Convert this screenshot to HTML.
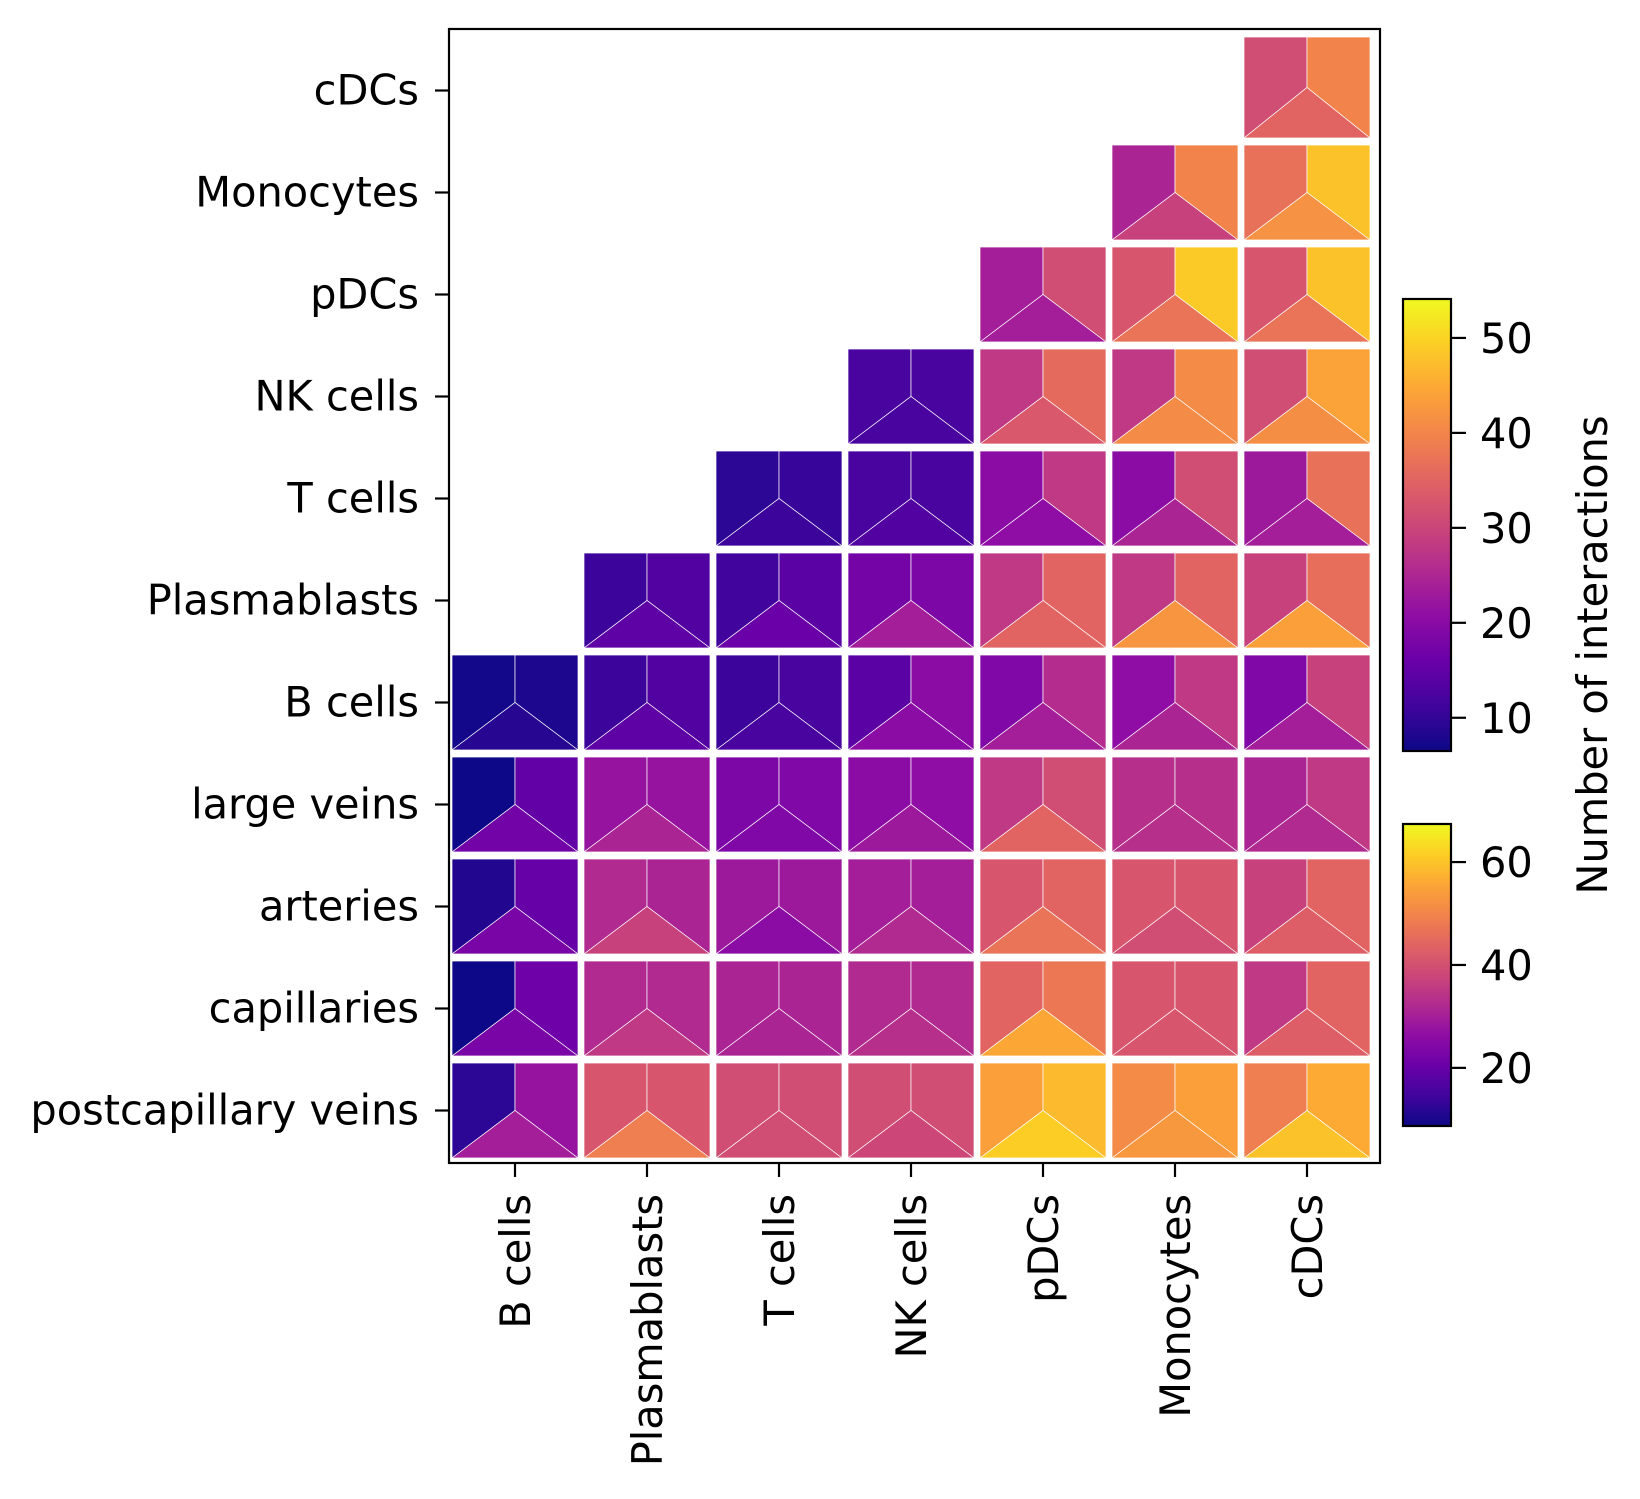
<!DOCTYPE html>
<html><head><meta charset="utf-8"><style>
html,body{margin:0;padding:0;background:#fff;}
svg text{font-family:"DejaVu Sans","Liberation Sans",sans-serif;fill:#000;}
</style></head><body>
<svg id="chart" width="1640" height="1494" viewBox="0 0 1640 1494" xmlns="http://www.w3.org/2000/svg">
<defs>
<linearGradient id="plasma" x1="0" y1="1" x2="0" y2="0">
<stop offset="0" stop-color="#0d0887"/><stop offset="0.1" stop-color="#41049d"/><stop offset="0.2" stop-color="#6a00a8"/><stop offset="0.3" stop-color="#8f0da4"/><stop offset="0.4" stop-color="#b12a90"/><stop offset="0.5" stop-color="#cc4778"/><stop offset="0.6" stop-color="#e16462"/><stop offset="0.7" stop-color="#f2844b"/><stop offset="0.8" stop-color="#fca636"/><stop offset="0.9" stop-color="#fcce25"/><stop offset="1" stop-color="#f0f921"/>
</linearGradient>
</defs>
<g id="cells"></g>
<rect x="449" y="29" width="931" height="1134" fill="none" stroke="#000" stroke-width="2.2"/>
<g id="axes"></g>
<rect x="1403" y="299" width="48" height="452" fill="url(#plasma)" stroke="#000" stroke-width="2.2"/>
<rect x="1403" y="824" width="48" height="302" fill="url(#plasma)" stroke="#000" stroke-width="2.2"/>
<text transform="translate(1607,655) rotate(-90)" text-anchor="middle" font-size="41.5">Number of interactions</text>
</svg>
<script>
// row labels (top to bottom) and column labels
const rowLabels = ["cDCs","Monocytes","pDCs","NK cells","T cells","Plasmablasts","B cells","large veins","arteries","capillaries","postcapillary veins"];
const colLabels = ["B cells","Plasmablasts","T cells","NK cells","pDCs","Monocytes","cDCs"];
// scaled interaction values (0-100) per cell: left, right, bottom; null = empty
const leftVals = [
 [null,null,null,null,null,null,52],
 [null,null,null,null,null,38,64],
 [null,null,null,null,36,55,55],
 [null,null,null,12,45,45,52],
 [null,null,6,12,29,29,34],
 [null,9,10,23,45,45,48],
 [1,9,9,16,26,30,26],
 [0,32,25,29,45,42,38],
 [4,40,34,36,55,55,48],
 [0,40,38,40,60,55,45],
 [6,55,52,52,78,72,68]
];
const rightVals = [
 [null,null,null,null,null,null,70],
 [null,null,null,null,null,70,87],
 [null,null,null,null,52,89,87],
 [null,null,null,12,62,72,79],
 [null,null,8,12,45,52,64],
 [null,14,16,25,60,60,63],
 [3,14,12,29,41,45,48],
 [18,32,26,30,52,42,45],
 [19,38,34,36,60,55,60],
 [21,40,38,40,66,55,60],
 [32,55,52,52,85,78,81]
];
const bottomVals = [
 [null,null,null,null,null,null,60],
 [null,null,null,null,null,48,74],
 [null,null,null,null,36,65,65],
 [null,null,null,12,56,72,73],
 [null,null,9,14,30,38,36],
 [null,17,20,36,60,75,78],
 [5,17,12,29,36,38,36],
 [22,38,26,34,60,42,40],
 [24,48,29,40,65,52,58],
 [24,45,38,42,80,55,58],
 [36,68,52,50,90,76,87]
];
const cbTopTicks = [10,20,30,40,50];
const cbBottomTicks = [20,40,60];

const NS="http://www.w3.org/2000/svg";
const X0=449,Y0=29,W=931,H=1134;
const colPitch=132,rowPitch=102,cellW=126,cellH=95,colStart=452,rowStart=43;
const xPos=i=>colStart+i*colPitch, yPos=j=>rowStart+j*rowPitch;
const stops=["#0d0887","#41049d","#6a00a8","#8f0da4","#b12a90","#cc4778","#e16462","#f2844b","#fca636","#fcce25","#f0f921"];
function hex(h){return [1,3,5].map(k=>parseInt(h.substr(k,2),16));}
function colorOf(v){
  let t=Math.max(0,Math.min(1,v/100))*10;let i=Math.min(9,Math.floor(t));let f=t-i;
  const a=hex(stops[i]),b=hex(stops[i+1]);
  return "rgb("+a.map((c,k)=>Math.round(c+(b[k]-c)*f)).join(",")+")";
}
function el(tag,attrs,parent){const e=document.createElementNS(NS,tag);for(const k in attrs)e.setAttribute(k,attrs[k]);parent.appendChild(e);return e;}
const cells=document.getElementById('cells');
const axes=document.getElementById('axes');
rowLabels.forEach((r,j)=>{
  colLabels.forEach((c,i)=>{
    const L=leftVals[j][i];
    if(L===null)return;
    const x1=xPos(i),x2=xPos(i)+cellW,y1=(j===0?37:yPos(j)),y2=yPos(j)+cellH;
    const mx=(x1+x2)/2,my=(y1+y2)/2;
    const pl=el('polygon',{points:`${x1},${y1} ${mx},${y1} ${mx},${my} ${x1},${y2}`,fill:colorOf(L),stroke:'#fff','stroke-width':0.7},cells);
    
    
    const pr=el('polygon',{points:`${mx},${y1} ${x2},${y1} ${x2},${y2} ${mx},${my}`,fill:colorOf(rightVals[j][i]),stroke:'#fff','stroke-width':0.7},cells);
    
    
    const pb=el('polygon',{points:`${x1},${y2} ${mx},${my} ${x2},${y2}`,fill:colorOf(bottomVals[j][i]),stroke:'#fff','stroke-width':0.7},cells);
    
    
  });
});
rowLabels.forEach((r,j)=>{
  const y=yPos(j)+cellH/2;
  const tk=el('line',{x1:X0-14,x2:X0,y1:y,y2:y,stroke:'#000','stroke-width':2.2},axes);
  
  
  const t=el('text',{x:X0-30,y:y+14,'text-anchor':'end','font-size':41.5},axes);
  t.textContent=r;
  
  
});
colLabels.forEach((c,i)=>{
  const x=xPos(i)+cellW/2;
  const tk=el('line',{x1:x,x2:x,y1:Y0+H,y2:Y0+H+14,stroke:'#000','stroke-width':2.2},axes);
  
  
  const t=el('text',{transform:`translate(${x+15},${Y0+H+31}) rotate(-90)`,'text-anchor':'end','font-size':41.5},axes);
  t.textContent=c;
  
  
});
function cbTicks(ticks,top,bot,vmin,vmax){
  ticks.forEach(v=>{
    const y=bot-(v-vmin)/(vmax-vmin)*(bot-top);
    const tk=el('line',{x1:1451,x2:1466,y1:y,y2:y,stroke:'#000','stroke-width':2.2},axes);
    
    
    const t=el('text',{x:1480,y:y+15,'font-size':41.5},axes);
    t.textContent=v;
    
    
  });
}
cbTicks(cbTopTicks,299,751,6.5,54.1);
cbTicks(cbBottomTicks,824,1126,8.7,67.4);
</script>
</body></html>
